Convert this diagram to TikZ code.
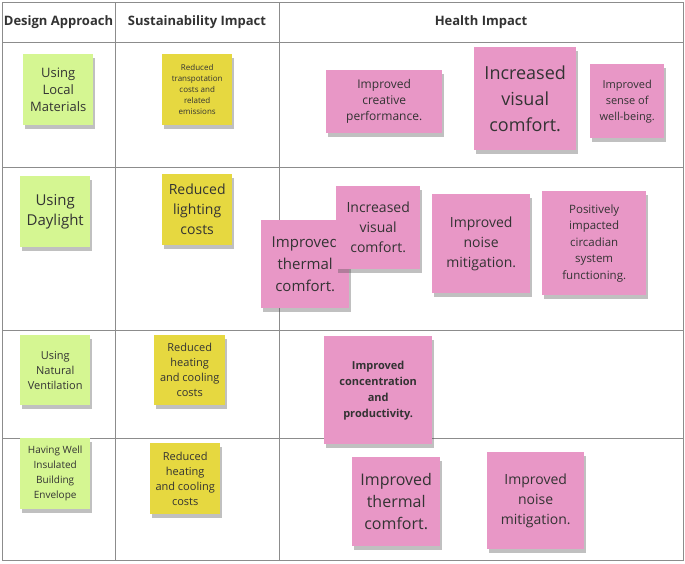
\documentclass[tikz,border=0pt]{standalone}
\usepackage{fontspec}
\setmainfont{Open Sans}
\usetikzlibrary{shadows}
\definecolor{gr}{HTML}{D5F692}
\definecolor{ye}{HTML}{E6D840}
\definecolor{pk}{HTML}{E897C6}
\definecolor{tx}{HTML}{333333}
\tikzset{
 note/.style={fill=#1, inner sep=1pt, align=center, text=tx, anchor=north west,
   drop shadow={shadow xshift=2pt, shadow yshift=-4pt, opacity=0.35, fill=black!70}},
 grid/.style={draw=black!45, line width=0.8pt},
 hd/.style={font=\fontsize{13}{15}\selectfont\bfseries, text=tx}
}
\newcommand{\nt}[8]{% name color x y w h font text
 \node[note=#2, minimum width=#5, minimum height=#6, font=#7] (#1) at (#3,#4) {#8};}
\begin{document}
\begin{tikzpicture}[x=1pt,y=-1pt]
\useasboundingbox (0,0) rectangle (685,563);
\fill[white] (0,0) rectangle (685,563);
\draw[grid] (2,2) rectangle (683,560);
\foreach \x in {115,279} \draw[grid] (\x,2) -- (\x,560);
\foreach \y in {42,167,330,438} \draw[grid] (2,\y) -- (683,\y);
\node[hd] (h1) at (58.5,22) {Design Approach};
\node[hd] (h2) at (197,22) {Sustainability Impact};
\node[hd] (h3) at (481,22) {Health Impact};
\nt{a1}{gr}{23}{54}{70}{71}{\fontsize{13}{17}\selectfont}{Using\\Local\\Materials}
\nt{b1}{ye}{162}{54}{70}{71}{\fontsize{8}{11}\selectfont}{Reduced\\transpotation\\costs and\\related\\emissions}
\nt{c1}{pk}{326}{70}{116}{63}{\fontsize{12}{16}\selectfont}{Improved\\creative\\performance.}
\nt{c2}{pk}{474}{47}{102}{103}{\fontsize{18}{26}\selectfont}{Increased\\visual\\comfort.}
\nt{c3}{pk}{590}{64}{74}{74}{\fontsize{11}{16}\selectfont}{Improved\\sense of\\well-being.}
\nt{a2}{gr}{20}{176}{70}{71}{\fontsize{15}{20}\selectfont}{Using\\Daylight}
\nt{b2}{ye}{162}{174}{70}{71}{\fontsize{14}{20}\selectfont}{Reduced\\lighting\\costs}
\nt{d1}{pk}{261}{220}{88}{88}{\fontsize{15}{22}\selectfont}{Improved\\thermal\\comfort.}
\nt{d2}{pk}{336}{186}{84}{83}{\fontsize{14}{20}\selectfont}{Increased\\visual\\comfort.}
\nt{d3}{pk}{432}{194}{98}{99}{\fontsize{14}{20}\selectfont}{Improved\\noise\\mitigation.}
\nt{d4}{pk}{542}{191}{104}{104}{\fontsize{11.5}{16.5}\selectfont}{Positively\\impacted\\circadian\\system\\functioning.}
\nt{a3}{gr}{20}{335}{70}{70}{\fontsize{11}{15}\selectfont}{Using\\Natural\\Ventilation}
\nt{b3}{ye}{154}{335}{71}{70}{\fontsize{11}{15}\selectfont}{Reduced\\heating\\and cooling\\costs}
\nt{e1}{pk}{324}{336}{108}{108}{\fontsize{11}{16}\selectfont\bfseries}{Improved\\concentration\\and\\productivity.}
\nt{a4}{gr}{20}{438}{70}{71}{\fontsize{10}{15}\selectfont}{Having Well\\Insulated\\Building\\Envelope}
\nt{b4}{ye}{150}{443}{70}{71}{\fontsize{11}{15}\selectfont}{Reduced\\heating\\and cooling\\costs}
\nt{f1}{pk}{352}{457}{88}{89}{\fontsize{16}{22}\selectfont}{Improved\\thermal\\comfort.}
\nt{f2}{pk}{487}{452}{97}{97}{\fontsize{14}{20}\selectfont}{Improved\\noise\\mitigation.}
\end{tikzpicture}
\end{document}
